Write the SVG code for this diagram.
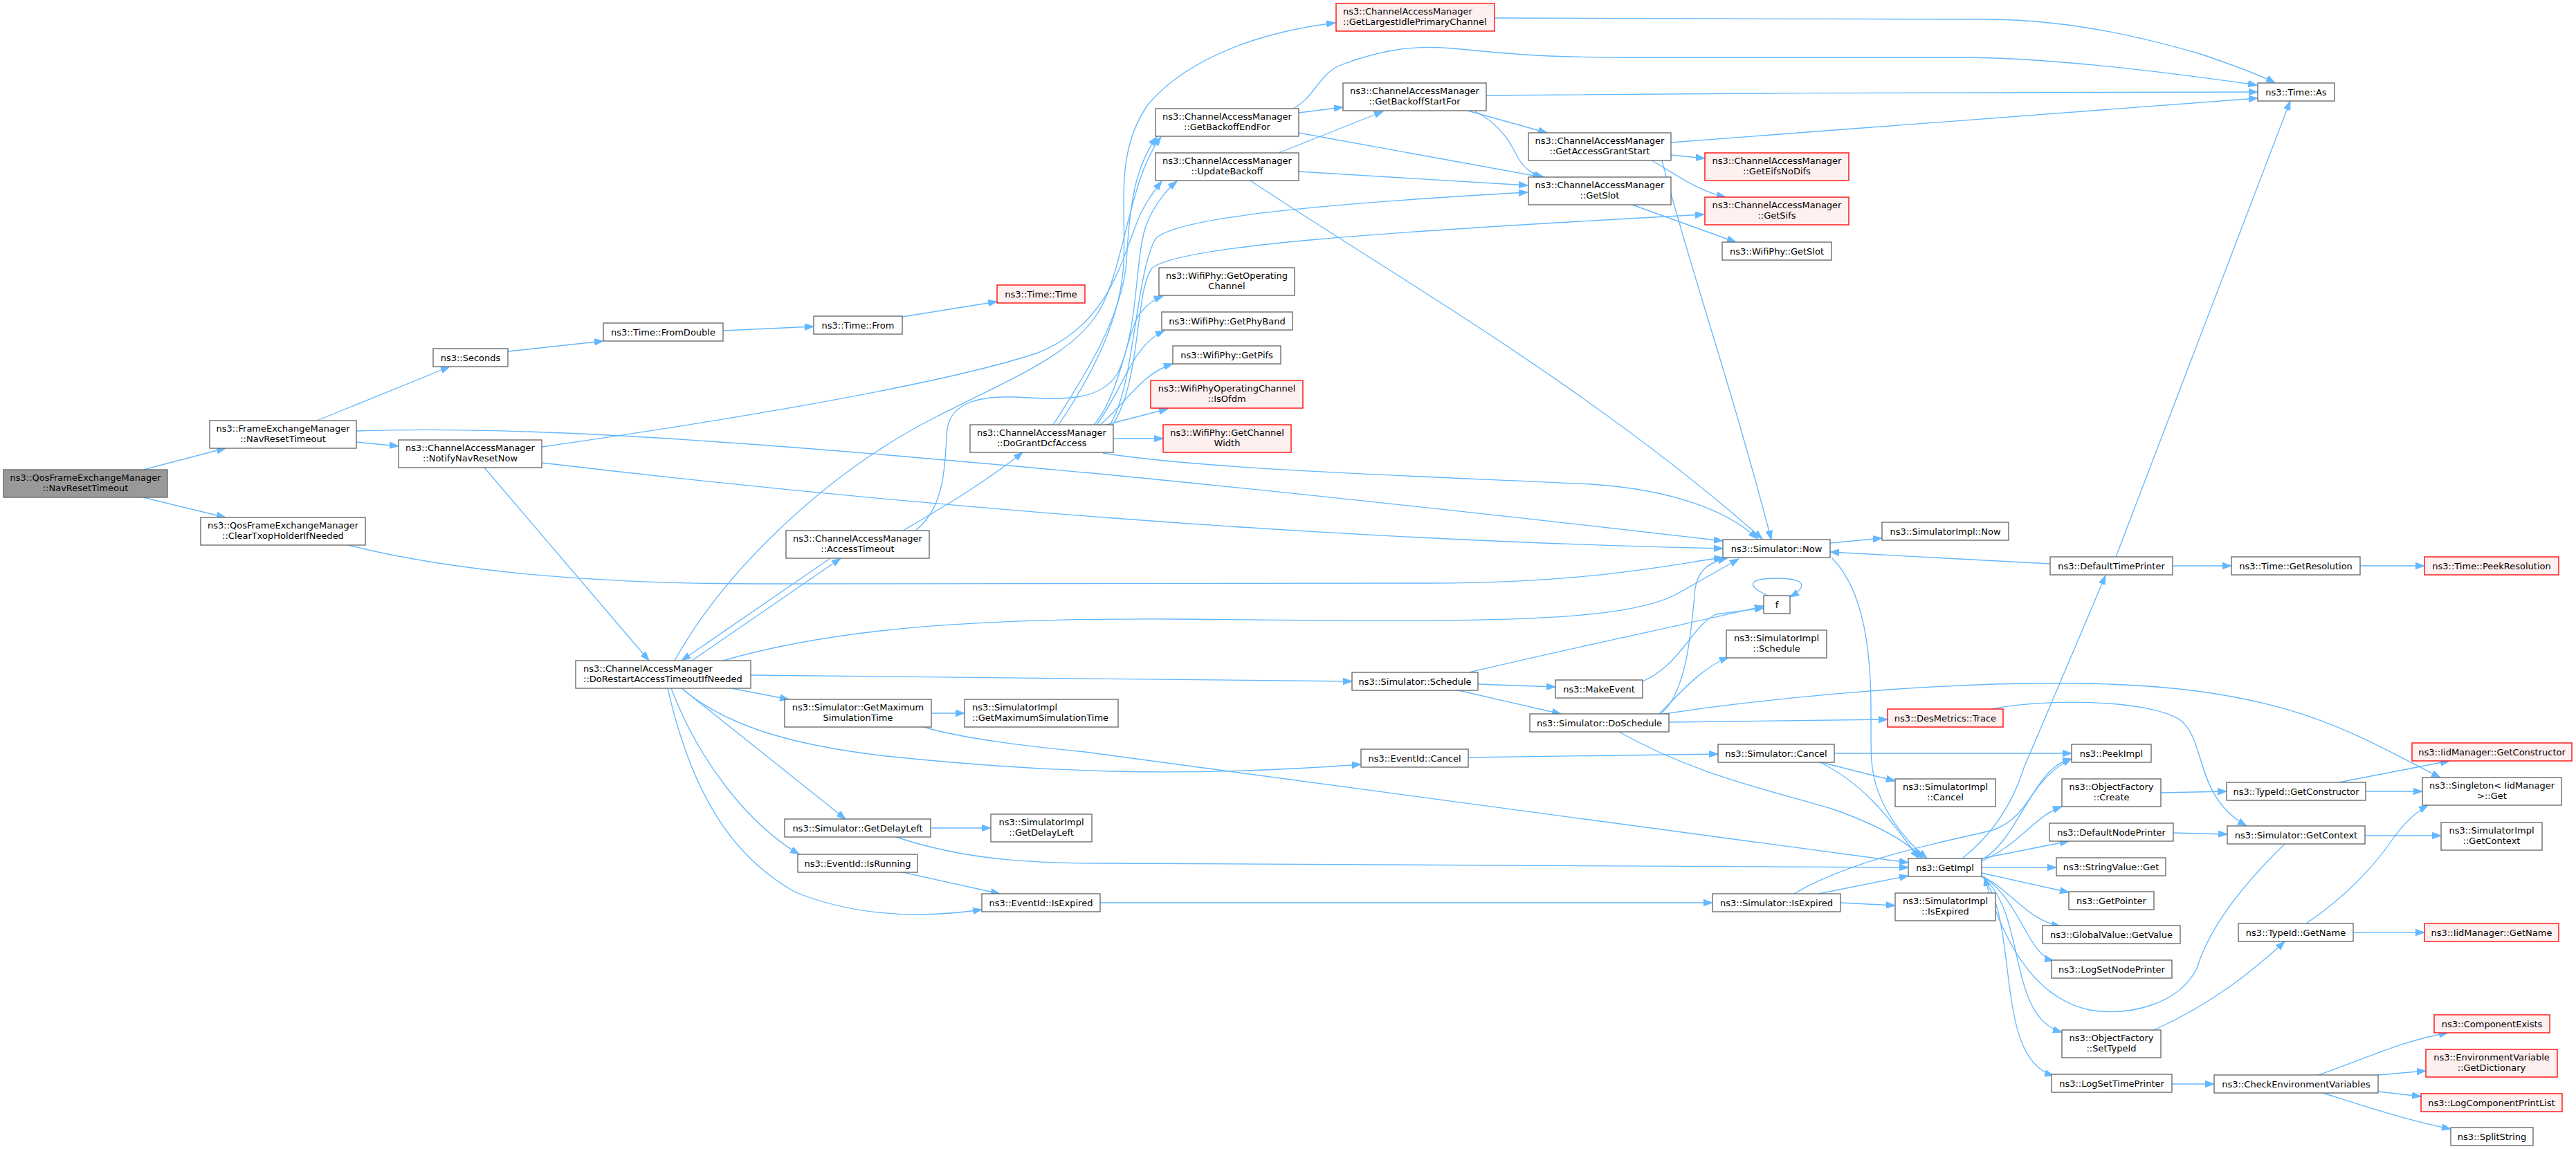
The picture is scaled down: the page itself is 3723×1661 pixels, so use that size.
<svg xmlns="http://www.w3.org/2000/svg" width="3723" height="1661" viewBox="0 0 3723 1661">
<style>
.n rect{fill:#ffffff;stroke:#666666;stroke-width:1.33}
.r rect{fill:#fff0f0;stroke:#ff0000;stroke-width:1.33}
.g rect{fill:#999999;stroke:#666666;stroke-width:1.33}
text{font-family:"DejaVu Sans","Liberation Sans",sans-serif;font-size:13px;fill:#000000;text-anchor:middle}
text.l{text-anchor:start}
#edges path{fill:none;stroke:#63b8ff;stroke-width:1.33;marker-end:url(#a)}
</style>
<defs>
<marker id="a" markerUnits="userSpaceOnUse" markerWidth="14" markerHeight="10" refX="13" refY="5" orient="auto">
<path d="M0,0.3 L13,5 L0,9.7 z" fill="#63b8ff" stroke="#63b8ff" stroke-width="1"/>
</marker>
</defs>
<rect width="3723" height="1661" fill="#ffffff"/>
<g id="edges">
<path d="M207,679 L326,648"/>
<path d="M207,719 L326,748"/>
<path d="M458,608 L650,530"/>
<path d="M515,639 L576,645"/>
<path d="M515,623 C800,613 1200,650 1568,683 C1900,715 2300,760 2490,782"/>
<path d="M734,508 L872,493"/>
<path d="M1045,478 L1176,472"/>
<path d="M1304,458 L1441,436"/>
<path d="M783,646 C1000,615 1350,560 1500,510 C1600,470 1620,380 1640,330 C1650,300 1665,280 1679,262"/>
<path d="M783,669 C1300,730 1900,780 2490,793"/>
<path d="M700,676 L938,955"/>
<path d="M503,788 C650,825 850,844 1100,844 L2068,843 C2300,843 2420,815 2490,806"/>
<path d="M1057,995 L1140,1011"/>
<path d="M975,955 C1050,820 1200,680 1354,602 C1460,548 1545,515 1585,455 C1625,395 1630,260 1678,198"/>
<path d="M1045,955 C1200,910 1400,893 1700,895 C2100,898 2350,905 2430,855 L2513,808"/>
<path d="M1000,955 L1215,807"/>
<path d="M1085,976 C1400,978 1700,982 1954,985"/>
<path d="M970,995 C1010,1100 1080,1190 1155,1235"/>
<path d="M985,995 L1222,1184"/>
<path d="M985,995 C1050,1050 1150,1080 1300,1095 C1500,1115 1700,1125 1967,1105"/>
<path d="M965,995 C1000,1150 1060,1240 1150,1290 C1250,1330 1350,1325 1419,1315"/>
<path d="M1200,807 L985,955"/>
<path d="M1305,767 C1360,735 1420,700 1478,654"/>
<path d="M1323,767 C1370,730 1365,660 1369,620 C1375,580 1420,572 1470,574 C1540,578 1590,580 1615,540 C1645,480 1640,380 1655,330 C1665,300 1685,275 1701,262"/>
<path d="M1530,614 C1580,540 1620,460 1624,380 C1628,300 1610,220 1660,150 C1720,80 1830,45 1930,33"/>
<path d="M1522,614 C1570,540 1620,460 1628,380 C1632,300 1640,240 1672,198"/>
<path d="M1581,614 C1620,570 1630,470 1650,450 C1660,438 1670,432 1681,428"/>
<path d="M1585,614 C1625,560 1635,500 1683,478"/>
<path d="M1590,614 C1630,580 1650,540 1695,526"/>
<path d="M1599,614 L1688,591"/>
<path d="M1609,634 L1681,634"/>
<path d="M1604,614 C1640,560 1640,400 1670,345 C1700,315 1900,295 2208,278"/>
<path d="M1608,614 C1650,550 1640,420 1665,388 C1700,355 2000,335 2463,310"/>
<path d="M1594,655 C1750,680 2100,690 2300,700 C2420,708 2500,740 2540,779"/>
<path d="M1877,163 L1941,155"/>
<path d="M1877,192 L2228,256"/>
<path d="M1869,157 C1900,140 1905,110 1935,95 C2000,70 2050,65 2100,70 C2200,80 2250,83 2350,83 L2830,83 C2950,83 3100,100 3262,123"/>
<path d="M1848,221 L1999,161"/>
<path d="M1877,248 L2208,268"/>
<path d="M1807,261 C2000,390 2300,560 2547,779"/>
<path d="M2148,138 C2500,134 3000,133 3263,133"/>
<path d="M2121,160 L2236,192"/>
<path d="M2132,161 C2170,180 2185,210 2195,230 C2205,245 2215,252 2231,256"/>
<path d="M2415,206 C2700,185 3000,160 3263,142"/>
<path d="M2415,224 L2464,229"/>
<path d="M2387,232 C2420,250 2450,275 2494,285"/>
<path d="M2402,232 C2440,380 2500,550 2560,780"/>
<path d="M2359,296 L2509,350"/>
<path d="M2160,26 L2880,28 C3000,30 3100,55 3180,78 C3230,95 3270,110 3288,120"/>
<path d="M2645,785 L2720,778"/>
<path d="M2648,807 C2720,880 2700,1050 2705,1100 C2710,1170 2760,1220 2785,1241"/>
<path d="M2963,815 L2645,798"/>
<path d="M3058,805 L3310,146"/>
<path d="M3140,818 L3225,818"/>
<path d="M3411,818 L3504,818"/>
<path d="M2123,972 C2300,930 2450,900 2549,876"/>
<path d="M2136,989 L2248,993"/>
<path d="M2103,997 L2256,1032"/>
<path d="M2374,985 C2430,960 2445,905 2480,888 L2549,879"/>
<path d="M2555,861 C2520,845 2530,836 2568,836 C2606,836 2616,846 2587,863"/>
<path d="M2400,1032 C2440,1000 2445,900 2450,850 C2455,820 2475,812 2496,807"/>
<path d="M2398,1032 C2430,1000 2460,965 2498,950"/>
<path d="M2412,1044 L2728,1040"/>
<path d="M2338,1057 C2450,1120 2550,1140 2650,1170 C2720,1195 2760,1220 2778,1241"/>
<path d="M2405,1032 C2550,1010 2800,985 3000,988 C3300,990 3400,1060 3527,1124"/>
<path d="M2878,1025 C2950,1010 3100,1010 3150,1040 C3190,1070 3170,1150 3247,1194"/>
<path d="M2122,1095 L2483,1090"/>
<path d="M2651,1089 L2994,1089"/>
<path d="M2628,1101 L2739,1129"/>
<path d="M2628,1101 C2690,1130 2730,1180 2773,1241"/>
<path d="M2864,1243 C2920,1210 2925,1130 2994,1097"/>
<path d="M2864,1245 C2920,1220 2940,1180 2980,1166"/>
<path d="M2864,1241 L2990,1216"/>
<path d="M2864,1254 L2972,1254"/>
<path d="M2864,1262 L2990,1290"/>
<path d="M2864,1266 C2910,1290 2930,1330 2978,1339"/>
<path d="M2864,1266 C2920,1300 2930,1380 2968,1389"/>
<path d="M2864,1266 C2930,1320 2900,1470 2980,1492"/>
<path d="M2864,1266 C2920,1330 2880,1530 2968,1555"/>
<path d="M2836,1241 Q2900,1190 2925,1110 L3043,832"/>
<path d="M2628,1292 L2758,1266"/>
<path d="M2660,1305 L2739,1309"/>
<path d="M2593,1292 C2680,1240 2820,1215 2880,1200 C2940,1180 2940,1110 2994,1097"/>
<path d="M1590,1305 L2475,1305"/>
<path d="M1300,1260 L1445,1292"/>
<path d="M1346,1031 L1394,1031"/>
<path d="M1335,1051 C1400,1070 1500,1080 1568,1087 L2758,1247"/>
<path d="M1345,1197 L1432,1197"/>
<path d="M1295,1210 C1400,1245 1500,1248 1600,1248 L2758,1254"/>
<path d="M3302,1220 C3230,1290 3190,1350 3175,1400 C3150,1450 3080,1470 3020,1460 C2950,1445 2900,1380 2868,1268"/>
<path d="M3418,1208 L3528,1208"/>
<path d="M3141,1204 L3219,1206"/>
<path d="M3123,1146 L3218,1144"/>
<path d="M3380,1131 L3540,1100"/>
<path d="M3419,1144 L3501,1144"/>
<path d="M3333,1335 C3400,1290 3440,1240 3460,1210 C3475,1190 3490,1175 3509,1164"/>
<path d="M3401,1348 L3504,1348"/>
<path d="M3113,1489 C3200,1450 3260,1400 3302,1361"/>
<path d="M3139,1567 L3200,1567"/>
<path d="M3351,1554 C3420,1530 3470,1505 3538,1493"/>
<path d="M3437,1554 L3506,1548"/>
<path d="M3437,1578 L3499,1585"/>
<path d="M3357,1580 C3420,1600 3480,1620 3542,1632"/>
</g>
<g id="qos" class="g"><rect x="5" y="679" width="237" height="40"/><text><tspan x="123.5" y="695">ns3::QosFrameExchangeManager</tspan><tspan x="123.5" y="709.5">::NavResetTimeout</tspan></text></g>
<g id="fem_nav" class="n"><rect x="303" y="608" width="212" height="40"/><text><tspan x="409" y="624">ns3::FrameExchangeManager</tspan><tspan x="409" y="638.5">::NavResetTimeout</tspan></text></g>
<g id="clear" class="n"><rect x="290" y="748" width="238" height="40"/><text><tspan x="409" y="764">ns3::QosFrameExchangeManager</tspan><tspan x="409" y="778.5">::ClearTxopHolderIfNeeded</tspan></text></g>
<g id="seconds" class="n"><rect x="626" y="504" width="108" height="26"/><text x="680" y="521.5">ns3::Seconds</text></g>
<g id="notify" class="n"><rect x="576" y="636" width="207" height="40"/><text><tspan x="679.5" y="652">ns3::ChannelAccessManager</tspan><tspan x="679.5" y="666.5">::NotifyNavResetNow</tspan></text></g>
<g id="fromdouble" class="n"><rect x="872" y="467" width="173" height="26"/><text x="958.5" y="484.5">ns3::Time::FromDouble</text></g>
<g id="dorestart" class="n"><rect x="832" y="955" width="253" height="40"/><text class="l"><tspan x="843" y="971">ns3::ChannelAccessManager</tspan><tspan x="843" y="985.5">::DoRestartAccessTimeoutIfNeeded</tspan></text></g>
<g id="from" class="n"><rect x="1176" y="457" width="128" height="26"/><text x="1240" y="474.5">ns3::Time::From</text></g>
<g id="accesstimeout" class="n"><rect x="1136" y="767" width="207" height="40"/><text><tspan x="1239.5" y="783">ns3::ChannelAccessManager</tspan><tspan x="1239.5" y="797.5">::AccessTimeout</tspan></text></g>
<g id="simgetmax" class="n"><rect x="1134" y="1011" width="212" height="40"/><text><tspan x="1240" y="1027">ns3::Simulator::GetMaximum</tspan><tspan x="1240" y="1041.5">SimulationTime</tspan></text></g>
<g id="simgetdelay" class="n"><rect x="1134" y="1184" width="211" height="26"/><text x="1239.5" y="1201.5">ns3::Simulator::GetDelayLeft</text></g>
<g id="isrunning" class="n"><rect x="1153" y="1235" width="173" height="26"/><text x="1239.5" y="1252.5">ns3::EventId::IsRunning</text></g>
<g id="timetime" class="r"><rect x="1441" y="412" width="127" height="26"/><text x="1504.5" y="429.5">ns3::Time::Time</text></g>
<g id="dogrant" class="n"><rect x="1402" y="614" width="207" height="40"/><text><tspan x="1505.5" y="630">ns3::ChannelAccessManager</tspan><tspan x="1505.5" y="644.5">::DoGrantDcfAccess</tspan></text></g>
<g id="implgetmax" class="n"><rect x="1394" y="1011" width="222" height="40"/><text class="l"><tspan x="1405" y="1027">ns3::SimulatorImpl</tspan><tspan x="1405" y="1041.5">::GetMaximumSimulationTime</tspan></text></g>
<g id="implgetdelay" class="n"><rect x="1432" y="1177" width="146" height="40"/><text><tspan x="1505" y="1193">ns3::SimulatorImpl</tspan><tspan x="1505" y="1207.5">::GetDelayLeft</tspan></text></g>
<g id="isexpired" class="n"><rect x="1419" y="1292" width="171" height="26"/><text x="1504.5" y="1309.5">ns3::EventId::IsExpired</text></g>
<g id="backoffend" class="n"><rect x="1670" y="157" width="207" height="40"/><text><tspan x="1773.5" y="173">ns3::ChannelAccessManager</tspan><tspan x="1773.5" y="187.5">::GetBackoffEndFor</tspan></text></g>
<g id="updatebackoff" class="n"><rect x="1670" y="221" width="207" height="40"/><text><tspan x="1773.5" y="237">ns3::ChannelAccessManager</tspan><tspan x="1773.5" y="251.5">::UpdateBackoff</tspan></text></g>
<g id="getopch" class="n"><rect x="1675" y="387" width="196" height="40"/><text><tspan x="1773" y="403">ns3::WifiPhy::GetOperating</tspan><tspan x="1773" y="417.5">Channel</tspan></text></g>
<g id="getphyband" class="n"><rect x="1679" y="451" width="189" height="26"/><text x="1773.5" y="468.5">ns3::WifiPhy::GetPhyBand</text></g>
<g id="getpifs" class="n"><rect x="1695" y="500" width="156" height="26"/><text x="1773" y="517.5">ns3::WifiPhy::GetPifs</text></g>
<g id="isofdm" class="r"><rect x="1663" y="550" width="220" height="40"/><text><tspan x="1773" y="566">ns3::WifiPhyOperatingChannel</tspan><tspan x="1773" y="580.5">::IsOfdm</tspan></text></g>
<g id="getchw" class="r"><rect x="1681" y="614" width="185" height="40"/><text><tspan x="1773.5" y="630">ns3::WifiPhy::GetChannel</tspan><tspan x="1773.5" y="644.5">Width</tspan></text></g>
<g id="largest" class="r"><rect x="1931" y="5" width="229" height="40"/><text class="l"><tspan x="1941" y="21">ns3::ChannelAccessManager</tspan><tspan x="1941" y="35.5">::GetLargestIdlePrimaryChannel</tspan></text></g>
<g id="backoffstart" class="n"><rect x="1941" y="120" width="207" height="40"/><text><tspan x="2044.5" y="136">ns3::ChannelAccessManager</tspan><tspan x="2044.5" y="150.5">::GetBackoffStartFor</tspan></text></g>
<g id="schedule" class="n"><rect x="1954" y="972" width="182" height="26"/><text x="2045" y="989.5">ns3::Simulator::Schedule</text></g>
<g id="eventcancel" class="n"><rect x="1967" y="1083" width="155" height="26"/><text x="2044.5" y="1100.5">ns3::EventId::Cancel</text></g>
<g id="grantstart" class="n"><rect x="2209" y="192" width="206" height="40"/><text><tspan x="2312" y="208">ns3::ChannelAccessManager</tspan><tspan x="2312" y="222.5">::GetAccessGrantStart</tspan></text></g>
<g id="camslot" class="n"><rect x="2209" y="256" width="206" height="40"/><text><tspan x="2312" y="272">ns3::ChannelAccessManager</tspan><tspan x="2312" y="286.5">::GetSlot</tspan></text></g>
<g id="makeevent" class="n"><rect x="2248" y="983" width="126" height="26"/><text x="2311" y="1000.5">ns3::MakeEvent</text></g>
<g id="doschedule" class="n"><rect x="2211" y="1032" width="201" height="26"/><text x="2311.5" y="1049.5">ns3::Simulator::DoSchedule</text></g>
<g id="eifs" class="r"><rect x="2464" y="221" width="208" height="40"/><text><tspan x="2568" y="237">ns3::ChannelAccessManager</tspan><tspan x="2568" y="251.5">::GetEifsNoDifs</tspan></text></g>
<g id="sifs" class="r"><rect x="2464" y="285" width="208" height="40"/><text><tspan x="2568" y="301">ns3::ChannelAccessManager</tspan><tspan x="2568" y="315.5">::GetSifs</tspan></text></g>
<g id="physlot" class="n"><rect x="2489" y="350" width="158" height="26"/><text x="2568" y="367.5">ns3::WifiPhy::GetSlot</text></g>
<g id="simnow" class="n"><rect x="2490" y="780" width="155" height="26"/><text x="2567.5" y="797.5">ns3::Simulator::Now</text></g>
<g id="f" class="n"><rect x="2549" y="861" width="38" height="26"/><text x="2568" y="878.5">f</text></g>
<g id="implschedule" class="n"><rect x="2495" y="911" width="145" height="40"/><text><tspan x="2567.5" y="927">ns3::SimulatorImpl</tspan><tspan x="2567.5" y="941.5">::Schedule</tspan></text></g>
<g id="simcancel" class="n"><rect x="2483" y="1076" width="168" height="26"/><text x="2567" y="1093.5">ns3::Simulator::Cancel</text></g>
<g id="simisexpired" class="n"><rect x="2475" y="1292" width="185" height="26"/><text x="2567.5" y="1309.5">ns3::Simulator::IsExpired</text></g>
<g id="implnow" class="n"><rect x="2720" y="755" width="183" height="26"/><text x="2811.5" y="772.5">ns3::SimulatorImpl::Now</text></g>
<g id="desmetrics" class="r"><rect x="2728" y="1025" width="167" height="26"/><text x="2811.5" y="1042.5">ns3::DesMetrics::Trace</text></g>
<g id="implcancel" class="n"><rect x="2739" y="1126" width="145" height="40"/><text><tspan x="2811.5" y="1142">ns3::SimulatorImpl</tspan><tspan x="2811.5" y="1156.5">::Cancel</tspan></text></g>
<g id="getimpl" class="n"><rect x="2758" y="1241" width="106" height="26"/><text x="2811" y="1258.5">ns3::GetImpl</text></g>
<g id="implisexpired" class="n"><rect x="2739" y="1291" width="145" height="40"/><text><tspan x="2811.5" y="1307">ns3::SimulatorImpl</tspan><tspan x="2811.5" y="1321.5">::IsExpired</tspan></text></g>
<g id="deftp" class="n"><rect x="2963" y="805" width="177" height="26"/><text x="3051.5" y="822.5">ns3::DefaultTimePrinter</text></g>
<g id="peekimpl" class="n"><rect x="2994" y="1076" width="115" height="26"/><text x="3051.5" y="1093.5">ns3::PeekImpl</text></g>
<g id="ofcreate" class="n"><rect x="2980" y="1126" width="143" height="40"/><text><tspan x="3051.5" y="1142">ns3::ObjectFactory</tspan><tspan x="3051.5" y="1156.5">::Create</tspan></text></g>
<g id="defnodeprinter" class="n"><rect x="2962" y="1190" width="179" height="26"/><text x="3051.5" y="1207.5">ns3::DefaultNodePrinter</text></g>
<g id="strget" class="n"><rect x="2972" y="1240" width="158" height="26"/><text x="3051" y="1257.5">ns3::StringValue::Get</text></g>
<g id="getpointer" class="n"><rect x="2990" y="1289" width="123" height="26"/><text x="3051.5" y="1306.5">ns3::GetPointer</text></g>
<g id="gvget" class="n"><rect x="2952" y="1338" width="199" height="26"/><text x="3051.5" y="1355.5">ns3::GlobalValue::GetValue</text></g>
<g id="logsetnode" class="n"><rect x="2965" y="1388" width="174" height="26"/><text x="3052" y="1405.5">ns3::LogSetNodePrinter</text></g>
<g id="ofsettypeid" class="n"><rect x="2980" y="1489" width="143" height="40"/><text><tspan x="3051.5" y="1505">ns3::ObjectFactory</tspan><tspan x="3051.5" y="1519.5">::SetTypeId</tspan></text></g>
<g id="logsettime" class="n"><rect x="2965" y="1553" width="174" height="26"/><text x="3052" y="1570.5">ns3::LogSetTimePrinter</text></g>
<g id="timeas" class="n"><rect x="3263" y="120" width="111" height="26"/><text x="3318.5" y="137.5">ns3::Time::As</text></g>
<g id="getres" class="n"><rect x="3225" y="805" width="186" height="26"/><text x="3318" y="822.5">ns3::Time::GetResolution</text></g>
<g id="typeidgetconstructor" class="n"><rect x="3218" y="1131" width="201" height="26"/><text x="3318.5" y="1148.5">ns3::TypeId::GetConstructor</text></g>
<g id="simgetcontext" class="n"><rect x="3219" y="1194" width="199" height="26"/><text x="3318.5" y="1211.5">ns3::Simulator::GetContext</text></g>
<g id="typeidgetname" class="n"><rect x="3235" y="1335" width="166" height="26"/><text x="3318" y="1352.5">ns3::TypeId::GetName</text></g>
<g id="checkenv" class="n"><rect x="3200" y="1554" width="237" height="26"/><text x="3318.5" y="1571.5">ns3::CheckEnvironmentVariables</text></g>
<g id="peekres" class="r"><rect x="3504" y="805" width="194" height="26"/><text x="3601" y="822.5">ns3::Time::PeekResolution</text></g>
<g id="iidgetconstructor" class="r"><rect x="3486" y="1074" width="231" height="26"/><text x="3601.5" y="1091.5">ns3::IidManager::GetConstructor</text></g>
<g id="singleton" class="n"><rect x="3501" y="1124" width="201" height="40"/><text><tspan x="3601.5" y="1140">ns3::Singleton&lt; IidManager</tspan><tspan x="3601.5" y="1154.5">&gt;::Get</tspan></text></g>
<g id="implgetcontext" class="n"><rect x="3528" y="1189" width="146" height="40"/><text><tspan x="3601" y="1205">ns3::SimulatorImpl</tspan><tspan x="3601" y="1219.5">::GetContext</tspan></text></g>
<g id="iidgetname" class="r"><rect x="3504" y="1335" width="194" height="26"/><text x="3601" y="1352.5">ns3::IidManager::GetName</text></g>
<g id="componentexists" class="r"><rect x="3518" y="1467" width="167" height="26"/><text x="3601.5" y="1484.5">ns3::ComponentExists</text></g>
<g id="getdictionary" class="r"><rect x="3506" y="1517" width="190" height="40"/><text><tspan x="3601" y="1533">ns3::EnvironmentVariable</tspan><tspan x="3601" y="1547.5">::GetDictionary</tspan></text></g>
<g id="logcompprintlist" class="r"><rect x="3499" y="1581" width="204" height="26"/><text x="3601" y="1598.5">ns3::LogComponentPrintList</text></g>
<g id="splitstring" class="n"><rect x="3542" y="1630" width="119" height="26"/><text x="3601.5" y="1647.5">ns3::SplitString</text></g>
</svg>
